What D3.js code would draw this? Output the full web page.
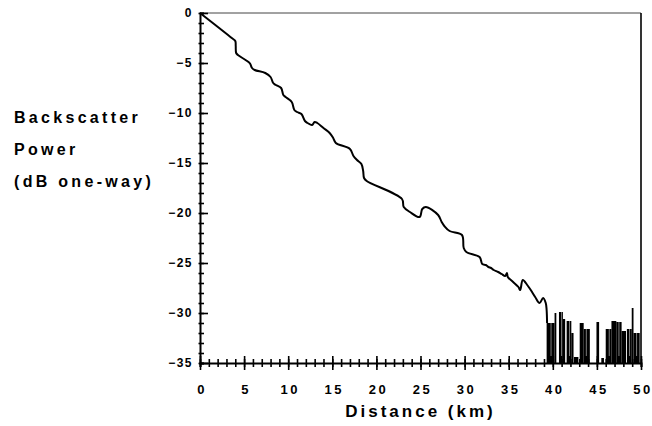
<!DOCTYPE html>
<html><head><meta charset="utf-8">
<script src="https://cdn.jsdelivr.net/npm/d3@7"></script>
<style>body{margin:0;background:#fff}</style>
</head><body><svg id="c" width="652" height="426"></svg>
<script>
// ---- data ----
const traceKm = [0,3.6,4.0,4.05,4.1,4.3,5.5,5.7,5.9,6.2,7.4,8.0,8.3,8.6,9.2,9.45,9.7,10.4,10.7,11.0,11.5,11.9,12.2,12.7,13.0,13.3,14.0,14.7,15.1,15.4,17.0,17.4,17.8,18.3,18.5,18.6,18.9,22.9,23.1,23.8,24.9,25.2,25.6,27.0,27.4,27.7,28.3,29.7,29.9,30.2,31.7,32.0,32.4,32.7,33.0,33.3,33.8,34.2,34.6,34.8,34.9,35.5,36.1,36.3,36.6,37.1,37.5,38.0,38.5,38.9,39.2,39.3,39.35];
const traceDb = [0,-2.5,-2.8,-3.3,-4.0,-4.2,-4.9,-5.1,-5.5,-5.7,-6.0,-6.4,-7.0,-7.2,-7.5,-8.2,-8.4,-8.9,-9.7,-9.9,-10.1,-10.8,-11.0,-11.2,-10.9,-11.0,-11.5,-12.0,-12.5,-13.0,-13.6,-14.3,-14.7,-15.1,-15.8,-16.5,-16.8,-18.6,-19.4,-19.9,-20.4,-19.6,-19.4,-20.2,-20.9,-21.3,-21.8,-22.2,-23.5,-23.9,-24.4,-25.1,-25.2,-25.4,-25.5,-25.7,-25.9,-26.1,-26.3,-26.0,-26.4,-26.9,-27.4,-27.7,-26.7,-27.2,-27.7,-28.4,-29.0,-28.5,-29.0,-29.7,-31.0];
const noiseStart = [39.30,40.20,40.70,41.15,41.57,42.10,42.40,43.05,43.50,44.95,45.50,46.00,46.65,47.20,47.80,48.40,48.95,49.15];
const noiseEnd   = [40.20,40.40,41.15,41.40,42.10,42.35,42.90,43.50,44.20,45.25,45.80,46.65,47.20,47.80,48.30,48.95,49.15,49.85];
const noiseTop   = [-31.0,-30.0,-29.9,-30.6,-30.8,-32.0,-34.4,-31.0,-31.6,-30.9,-34.5,-31.6,-30.8,-30.9,-31.8,-31.6,-29.5,-32.0];
const dropoutKm  = [39.8,41.0,41.9,43.8,46.4,47.5,48.7,49.5];
const xMajor = [0,5,10,15,20,25,30,35,40,45,50];
const yMajor = [0,-5,-10,-15,-20,-25,-30,-35];
const xMinor = d3.range(0,51,1);
const yMinor = d3.range(-35,1,1);
const xTitle = "Distance (km)";
const yTitle = ["Backscatter","Power","(dB one-way)"];

// ---- drawing ----
const svg = d3.select("#c");
const L=200, R=641, T=13, B=363;
const x = d3.scaleLinear().domain([0,50]).range([L,R]);
const y = d3.scaleLinear().domain([-35,0]).range([B,T]);
const font = "'Liberation Sans', Arial, sans-serif";

// frame top & right
svg.append("line").attr("x1",x(0)).attr("x2",x(50)).attr("y1",y(0)).attr("y2",y(0))
  .attr("stroke","#444").attr("stroke-width",1);
svg.append("line").attr("x1",x(50)).attr("x2",x(50)).attr("y1",y(0)).attr("y2",y(-35))
  .attr("stroke","#000").attr("stroke-width",1.6);

// noise blocks
svg.append("g").selectAll("rect").data(noiseStart).join("rect")
  .attr("x",(d,i)=>x(d)).attr("width",(d,i)=>x(noiseEnd[i])-x(d))
  .attr("y",(d,i)=>y(noiseTop[i])).attr("height",(d,i)=>y(-35)-y(noiseTop[i]))
  .attr("fill","#000");
svg.append("g").selectAll("line").data(dropoutKm).join("line")
  .attr("x1",d=>x(d)).attr("x2",d=>x(d)).attr("y1",y(-29)).attr("y2",y(-34.3))
  .attr("stroke","#fff").attr("stroke-width",0.5);

// trace
const pts = traceKm.map((k,i)=>[k,traceDb[i]]);
svg.append("path").datum(pts)
  .attr("d",d3.line().x(d=>x(d[0])).y(d=>y(d[1])).curve(d3.curveCatmullRom.alpha(0.5)))
  .attr("fill","none").attr("stroke","#000").attr("stroke-width",2).attr("stroke-linejoin","round");

// x axis
const gx = svg.append("g").attr("transform",`translate(0,${B})`);
gx.call(d3.axisBottom(x).tickValues(xMinor).tickSize(4).tickFormat(""));
gx.selectAll(".tick line").attr("y1",-4).attr("stroke-width",1.6);
gx.select(".domain").attr("stroke-width",2);
const gx2 = svg.append("g").attr("transform",`translate(0,${B})`);
gx2.call(d3.axisBottom(x).tickValues(xMajor).tickSize(7).tickPadding(15).tickFormat(d3.format("d")));
gx2.select(".domain").remove();
gx2.selectAll(".tick line").attr("y1",-7).attr("stroke-width",1.6);
gx2.selectAll(".tick text").style("font-family",font).style("font-size","13px").style("font-weight","bold")
  .style("letter-spacing","2.5px").attr("dx","1.5px").attr("fill","#000");

// y axis
const gy = svg.append("g").attr("transform",`translate(${L},0)`);
gy.call(d3.axisRight(y).tickValues(yMinor).tickSize(4).tickFormat(""));
gy.selectAll(".tick line").attr("x1",-1.5).attr("stroke-width",1.6);
gy.select(".domain").attr("stroke-width",2);
const gy2 = svg.append("g").attr("transform",`translate(${L},0)`);
gy2.call(d3.axisRight(y).tickValues(yMajor).tickSize(8).tickFormat(""));
gy2.select(".domain").remove();
gy2.selectAll(".tick line").attr("stroke-width",1.6);
const gy3 = svg.append("g").attr("transform",`translate(${L},0)`);
gy3.call(d3.axisLeft(y).tickValues(yMajor).tickSize(0).tickPadding(7).tickFormat(d3.format("d")));
gy3.select(".domain").remove();
gy3.selectAll(".tick text").style("font-family",font).style("font-size","12px").style("font-weight","bold")
  .style("letter-spacing","1.5px").attr("fill","#000");

// titles
svg.append("text").attr("x",(L+R)/2).attr("y",417).attr("text-anchor","middle")
  .style("font-family",font).style("font-size","17px").style("font-weight","bold").style("letter-spacing","3px")
  .text(xTitle);
const yl = [123,155,187];
svg.selectAll(".yt").data(yTitle).join("text").attr("class","yt")
  .attr("x",14).attr("y",(d,i)=>yl[i])
  .style("font-family",font).style("font-size","16px").style("font-weight","bold").style("letter-spacing","3.3px")
  .text(d=>d);
</script></body></html>
